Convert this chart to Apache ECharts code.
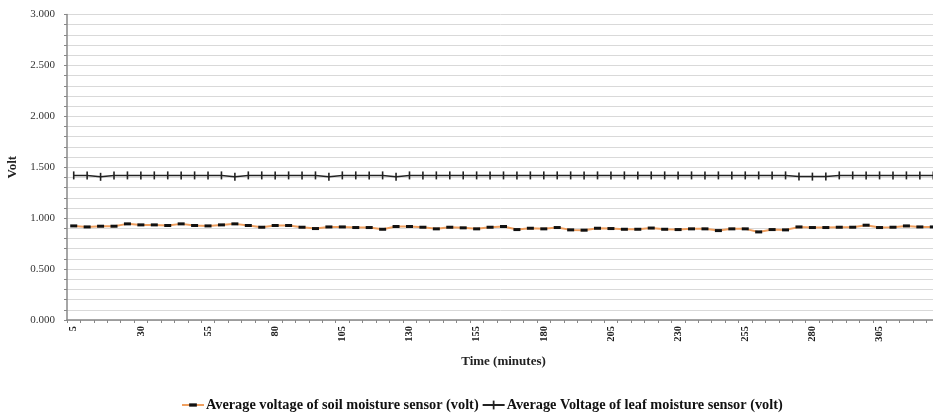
<!DOCTYPE html>
<html>
<head>
<meta charset="utf-8">
<script src="https://cdn.jsdelivr.net/npm/echarts@6/dist/echarts.min.js"></script>
<style>
  html, body { margin: 0; padding: 0; background: #fff; }
  #chart { width: 933px; height: 413px; }
</style>
</head>
<body>
<div id="chart"></div>
<script>
// Time in minutes, one reading every 5 minutes
const minutes = [];
for (let t = 5; t <= 325; t += 5) minutes.push(String(t));

// Average voltage of soil moisture sensor (volt)
const soilVoltage = [
  0.924, 0.914, 0.921, 0.921, 0.944, 0.934, 0.934, 0.928, 0.944, 0.928,
  0.924, 0.934, 0.944, 0.928, 0.911, 0.928, 0.928, 0.911, 0.898, 0.914,
  0.914, 0.908, 0.908, 0.891, 0.918, 0.918, 0.911, 0.895, 0.911, 0.905,
  0.895, 0.911, 0.918, 0.888, 0.901, 0.895, 0.908, 0.885, 0.882, 0.901,
  0.898, 0.891, 0.891, 0.903, 0.891, 0.888, 0.895, 0.895, 0.878, 0.895,
  0.895, 0.865, 0.888, 0.885, 0.914, 0.908, 0.908, 0.911, 0.911, 0.931,
  0.908, 0.911, 0.924, 0.914, 0.914
];

// Average voltage of leaf moisture sensor (volt)
const leafVoltage = [
  1.420, 1.420, 1.406, 1.420, 1.420, 1.420, 1.420, 1.420, 1.420, 1.420,
  1.420, 1.420, 1.406, 1.420, 1.420, 1.420, 1.420, 1.420, 1.420, 1.406,
  1.420, 1.420, 1.420, 1.420, 1.406, 1.420, 1.420, 1.420, 1.420, 1.420,
  1.420, 1.420, 1.420, 1.420, 1.420, 1.420, 1.420, 1.420, 1.420, 1.420,
  1.420, 1.420, 1.420, 1.420, 1.420, 1.420, 1.420, 1.420, 1.420, 1.420,
  1.420, 1.420, 1.420, 1.420, 1.408, 1.408, 1.408, 1.420, 1.420, 1.420,
  1.420, 1.420, 1.420, 1.420, 1.420
];

const seriesNames = [
  'Average voltage of soil moisture sensor (volt)',
  'Average Voltage of leaf moisture sensor (volt)'
];

const serif = '"Liberation Serif", "Times New Roman", serif';

// Marker shapes: a square bounding box with a dash / bar inside, so the
// legend icon keeps the same proportions as the markers on the lines.
const dashSymbol = 'path://M-4,-4L-4,-4M-3.5,-1.5L3.5,-1.5L3.5,1.5L-3.5,1.5ZM4,4L4,4';
const barSymbol = 'path://M-4,-4L-4,-4M-0.8,-4L0.8,-4L0.8,4L-0.8,4ZM4,4L4,4';

const chart = echarts.init(document.getElementById('chart'), null, { renderer: 'canvas' });

chart.setOption({
  animation: false,
  backgroundColor: '#ffffff',
  grid: {
    left: 67, right: -7, top: 14.5, bottom: 93,
    containLabel: false,
    outerBoundsMode: 'none'
  },
  legend: {
    top: 393,
    left: 176,
    itemGap: 3,
    itemWidth: 22,
    itemHeight: 11,
    textStyle: { fontFamily: serif, fontWeight: 'bold', fontSize: 14.3, color: '#111', padding: [0, 0, 0, -3] },
    data: seriesNames
  },
  xAxis: {
    type: 'category',
    data: minutes,
    boundaryGap: true,
    name: 'Time (minutes)',
    nameLocation: 'middle',
    nameGap: 35,
    nameTextStyle: { fontFamily: serif, fontWeight: 'bold', fontSize: 13, color: '#222' },
    axisLine: { lineStyle: { color: '#888', width: 1.5 } },
    axisTick: { show: true, interval: 0, length: 3, lineStyle: { color: '#888' } },
    axisLabel: {
      interval: 4,
      rotate: 90,
      margin: 6,
      fontFamily: serif,
      fontWeight: 'bold',
      fontSize: 10.5,
      color: '#222'
    },
    splitLine: { show: false }
  },
  yAxis: {
    type: 'value',
    min: 0,
    max: 3,
    interval: 0.1,
    name: 'Volt',
    nameLocation: 'middle',
    nameGap: 48,
    nameRotate: 90,
    nameMoveOverlap: false,
    nameTextStyle: { fontFamily: serif, fontWeight: 'bold', fontSize: 13, color: '#222' },
    axisLine: { show: true, lineStyle: { color: '#888', width: 1.5 } },
    axisTick: { show: true, length: 3, lineStyle: { color: '#888' } },
    axisLabel: {
      margin: 12,
      fontFamily: serif,
      fontSize: 11,
      color: '#333',
      formatter: function (v) {
        return Math.round(v * 10) % 5 === 0 ? v.toFixed(3) : '';
      }
    },
    splitLine: { show: true, lineStyle: { color: '#d9d9d9', width: 1 } }
  },
  series: [
    {
      name: seriesNames[0],
      type: 'line',
      data: soilVoltage,
      symbol: dashSymbol,
      symbolSize: 8,
      showAllSymbol: true,
      itemStyle: { color: '#111', borderWidth: 0 },
      lineStyle: { color: '#F0A060', width: 2 }
    },
    {
      name: seriesNames[1],
      type: 'line',
      data: leafVoltage,
      symbol: barSymbol,
      symbolSize: 8,
      showAllSymbol: true,
      itemStyle: { color: '#222', borderWidth: 0 },
      lineStyle: { color: '#222', width: 1.5 }
    }
  ]
});
</script>
</body>
</html>
